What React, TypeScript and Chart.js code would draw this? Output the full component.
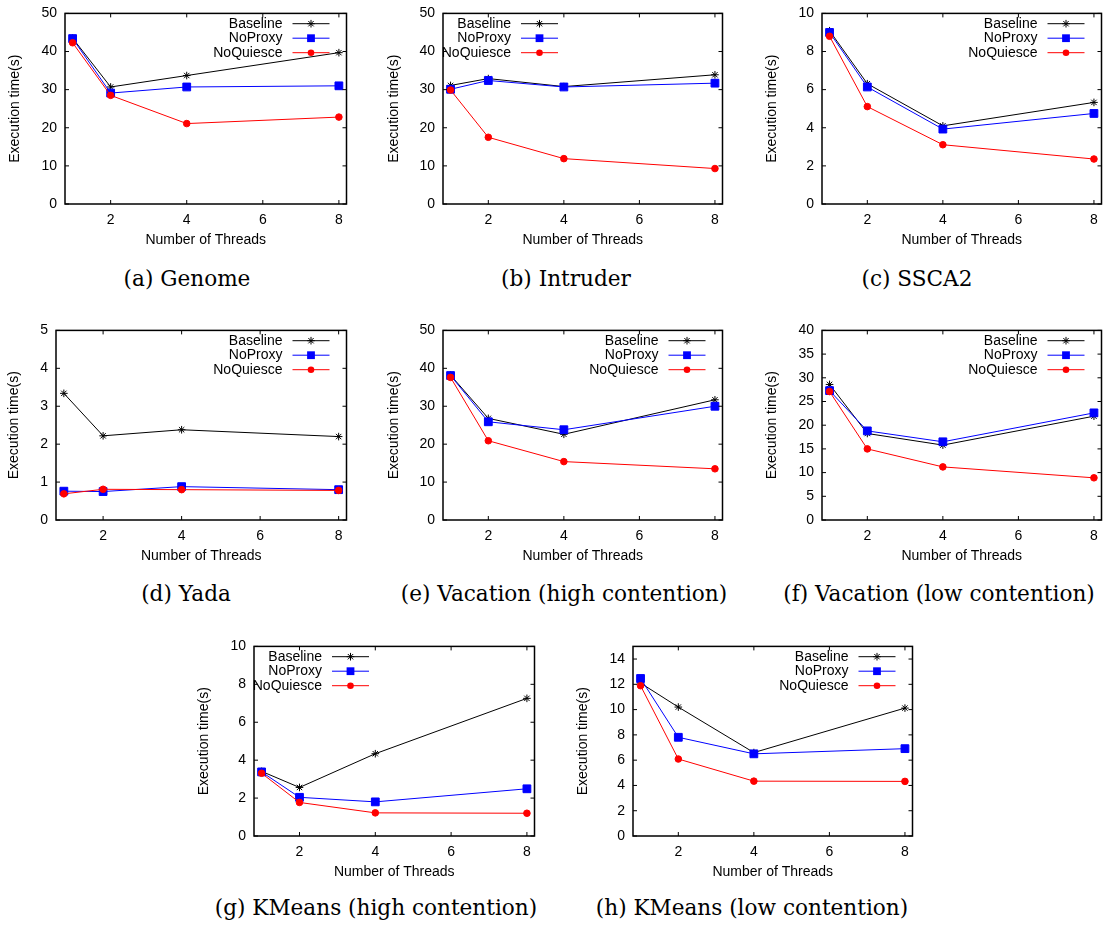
import React, { useEffect, useRef } from "react";
import { Chart, registerables } from "chart.js";

Chart.register(...registerables);

// ---------- data ----------
const threads = [1, 2, 4, 8];
const seriesNames = ["Baseline", "NoProxy", "NoQuiesce"];
const xTickValues = [2, 4, 6, 8];

const yTicks50 = [0, 10, 20, 30, 40, 50];
const yTicks10 = [0, 2, 4, 6, 8, 10];
const yTicks5 = [0, 1, 2, 3, 4, 5];
const yTicks40 = [0, 5, 10, 15, 20, 25, 30, 35, 40];
const yTicks14 = [0, 2, 4, 6, 8, 10, 12, 14];

const genomeBaseline = [43.5, 30.7, 33.7, 39.7];
const genomeNoProxy = [43.4, 29.1, 30.7, 31.0];
const genomeNoQuiesce = [42.3, 28.5, 21.1, 22.8];

const intruderBaseline = [31.1, 32.9, 30.8, 33.9];
const intruderNoProxy = [30.1, 32.4, 30.7, 31.7];
const intruderNoQuiesce = [29.9, 17.5, 11.9, 9.3];

const ssca2Baseline = [9.09, 6.31, 4.1, 5.33];
const ssca2NoProxy = [9.0, 6.14, 3.93, 4.75];
const ssca2NoQuiesce = [8.8, 5.11, 3.11, 2.36];

const yadaBaseline = [3.34, 2.22, 2.38, 2.2];
const yadaNoProxy = [0.76, 0.75, 0.88, 0.8];
const yadaNoQuiesce = [0.69, 0.81, 0.8, 0.78];

const vacHighBaseline = [38.2, 26.8, 22.6, 31.7];
const vacHighNoProxy = [38.1, 25.9, 23.8, 30.0];
const vacHighNoQuiesce = [37.6, 20.9, 15.4, 13.5];

const vacLowBaseline = [28.6, 18.25, 15.8, 21.9];
const vacLowNoProxy = [27.3, 18.8, 16.5, 22.6];
const vacLowNoQuiesce = [27.1, 15.0, 11.2, 8.9];

const kmHighBaseline = [3.41, 2.56, 4.34, 7.26];
const kmHighNoProxy = [3.38, 2.04, 1.8, 2.49];
const kmHighNoQuiesce = [3.31, 1.77, 1.22, 1.2];

const kmLowBaseline = [12.1, 10.2, 6.6, 10.12];
const kmLowNoProxy = [12.46, 7.81, 6.5, 6.91];
const kmLowNoQuiesce = [11.89, 6.09, 4.34, 4.32];

const captions = [
  "(a) Genome",
  "(b) Intruder",
  "(c) SSCA2",
  "(d) Yada",
  "(e) Vacation (high contention)",
  "(f) Vacation (low contention)",
  "(g) KMeans (high contention)",
  "(h) KMeans (low contention)",
];

// ---------- panel definitions ----------
const panels = [
  { yMax: 50, yTicks: yTicks50, series: [genomeBaseline, genomeNoProxy, genomeNoQuiesce], side: "right" },
  { yMax: 50, yTicks: yTicks50, series: [intruderBaseline, intruderNoProxy, intruderNoQuiesce], side: "left" },
  { yMax: 10, yTicks: yTicks10, series: [ssca2Baseline, ssca2NoProxy, ssca2NoQuiesce], side: "right" },
  { yMax: 5, yTicks: yTicks5, series: [yadaBaseline, yadaNoProxy, yadaNoQuiesce], side: "right" },
  { yMax: 50, yTicks: yTicks50, series: [vacHighBaseline, vacHighNoProxy, vacHighNoQuiesce], side: "right" },
  { yMax: 40, yTicks: yTicks40, series: [vacLowBaseline, vacLowNoProxy, vacLowNoQuiesce], side: "right" },
  { yMax: 10, yTicks: yTicks10, series: [kmHighBaseline, kmHighNoProxy, kmHighNoQuiesce], side: "left" },
  { yMax: 15, yTicks: yTicks14, series: [kmLowBaseline, kmLowNoProxy, kmLowNoQuiesce], side: "right" },
];

// page-layout (plot rectangle, caption centre, y-title offset)
const boxes = [
  { L: 65, R: 347, T: 9, B: 204, cx: 187, cy: 279, yOff: 50 },
  { L: 443, R: 723, T: 9, B: 204, cx: 566, cy: 279, yOff: 49 },
  { L: 822, R: 1102, T: 9, B: 204, cx: 917, cy: 279, yOff: 50 },
  { L: 56, R: 347, T: 326, B: 520, cx: 186, cy: 594, yOff: 42 },
  { L: 443, R: 723, T: 326, B: 520, cx: 564, cy: 594, yOff: 49 },
  { L: 822, R: 1102, T: 326, B: 520, cx: 939, cy: 594, yOff: 50 },
  { L: 254, R: 535, T: 642, B: 836, cx: 376, cy: 908, yOff: 50 },
  { L: 633, R: 913, T: 642, B: 836, cx: 752, cy: 908, yOff: 50 },
];

const colors = ["#000000", "#0000ff", "#ff0000"];
const pointStyles = ["star", "rect", "circle"];
const pointRadii = [3.8, 5.5, 3.3];
const FONT = "'Liberation Sans', Arial, sans-serif";

const Y_AXIS_W = 60;
const X_AXIS_H = 45;
const PAD_TOP = 12;
const PAD_BOTTOM = 3;
const PAD_RIGHT = 6;

function drawMarker(ctx: CanvasRenderingContext2D, style: string, x: number, y: number, r: number, color: string) {
  ctx.save();
  ctx.strokeStyle = color;
  ctx.fillStyle = color;
  ctx.lineWidth = 1;
  if (style === "star") {
    const d = r * Math.SQRT1_2;
    ctx.beginPath();
    ctx.moveTo(x - r, y);
    ctx.lineTo(x + r, y);
    ctx.moveTo(x, y - r);
    ctx.lineTo(x, y + r);
    ctx.moveTo(x - d, y - d);
    ctx.lineTo(x + d, y + d);
    ctx.moveTo(x - d, y + d);
    ctx.lineTo(x + d, y - d);
    ctx.stroke();
  } else if (style === "rect") {
    const s = r * Math.SQRT1_2;
    ctx.fillRect(x - s, y - s, 2 * s, 2 * s);
  } else {
    ctx.beginPath();
    ctx.arc(x, y, r, 0, Math.PI * 2);
    ctx.fill();
  }
  ctx.restore();
}

const framePlugin = {
  id: "gpFrame",
  afterDatasetsDraw(chart: any) {
    const { ctx, chartArea: a, scales } = chart;
    ctx.save();
    ctx.strokeStyle = "#000";
    ctx.lineWidth = 1;
    const tl = 4;
    ctx.beginPath();
    scales.x.ticks.forEach((t: any) => {
      const px = scales.x.getPixelForValue(t.value);
      ctx.moveTo(px, a.bottom);
      ctx.lineTo(px, a.bottom - tl);
      ctx.moveTo(px, a.top);
      ctx.lineTo(px, a.top + tl);
    });
    scales.y.ticks.forEach((t: any) => {
      const py = scales.y.getPixelForValue(t.value);
      ctx.moveTo(a.left, py);
      ctx.lineTo(a.left + tl, py);
      ctx.moveTo(a.right, py);
      ctx.lineTo(a.right - tl, py);
    });
    ctx.stroke();
    ctx.lineWidth = 1.5;
    ctx.strokeRect(a.left, a.top, a.right - a.left, a.bottom - a.top);
    ctx.restore();
  },
};

const legendPlugin = {
  id: "gpLegend",
  afterDraw(chart: any, _args: any, opts: any) {
    const { ctx, chartArea: a } = chart;
    const lineEnd = opts.side === "left" ? a.left + 115 : a.right - 17;
    const lineStart = lineEnd - 37;
    const mid = (lineStart + lineEnd) / 2;
    chart.data.datasets.forEach((ds: any, i: number) => {
      const y = a.top + 10.3 + i * 14.5;
      ctx.save();
      ctx.fillStyle = "#000";
      ctx.font = `14px ${FONT}`;
      ctx.textAlign = "right";
      ctx.textBaseline = "middle";
      ctx.fillText(ds.label, lineStart - 10, y);
      ctx.strokeStyle = ds.borderColor;
      ctx.lineWidth = 1;
      ctx.beginPath();
      ctx.moveTo(lineStart, y);
      ctx.lineTo(lineEnd, y);
      ctx.stroke();
      ctx.restore();
      drawMarker(ctx, ds.pointStyle, mid, y, ds.pointRadius, ds.borderColor);
    });
  },
};

function Panel({ idx }: { idx: number }) {
  const ref = useRef<HTMLCanvasElement | null>(null);
  const p = panels[idx];
  const b = boxes[idx];
  const width = b.R - b.L + Y_AXIS_W + PAD_RIGHT;
  const height = b.B - b.T + PAD_TOP + X_AXIS_H + PAD_BOTTOM;

  useEffect(() => {
    if (!ref.current) return;
    const datasets = seriesNames.map((name, i) => ({
      label: name,
      data: threads.map((t, k) => ({ x: t, y: p.series[i][k] })),
      borderColor: colors[i],
      backgroundColor: colors[i],
      pointBackgroundColor: colors[i],
      pointBorderColor: colors[i],
      borderWidth: 1,
      pointBorderWidth: 1,
      pointStyle: pointStyles[i],
      pointRadius: pointRadii[i],
      tension: 0,
      order: 3 - i,
    }));
    const chart = new Chart(ref.current, {
      type: "line",
      data: { datasets },
      plugins: [framePlugin, legendPlugin],
      options: {
        responsive: false,
        animation: false,
        devicePixelRatio: 1,
        layout: { padding: { top: PAD_TOP, right: PAD_RIGHT, bottom: PAD_BOTTOM, left: 0 } },
        plugins: {
          legend: { display: false },
          tooltip: { enabled: false },
          gpLegend: { side: p.side },
        } as any,
        scales: {
          x: {
            type: "linear",
            min: 0.8,
            max: 8.2,
            grid: { display: false, drawTicks: false },
            border: { display: false },
            afterBuildTicks: (s: any) => {
              s.ticks = xTickValues.map((v) => ({ value: v }));
            },
            afterFit: (s: any) => {
              s.height = X_AXIS_H;
            },
            ticks: {
              color: "#000",
              font: { family: FONT, size: 14 },
              padding: 7.5,
              maxRotation: 0,
              autoSkip: false,
            },
            title: {
              display: true,
              text: "Number of Threads",
              color: "#000",
              font: { family: FONT, size: 14 },
              padding: { top: 0, bottom: 0.6 },
            },
          },
          y: {
            type: "linear",
            min: 0,
            max: p.yMax,
            grid: { display: false, drawTicks: false },
            border: { display: false },
            afterBuildTicks: (s: any) => {
              s.ticks = p.yTicks.map((v) => ({ value: v }));
            },
            afterFit: (s: any) => {
              s.width = Y_AXIS_W;
            },
            ticks: {
              color: "#000",
              font: { family: FONT, size: 14 },
              padding: 8,
              autoSkip: false,
            },
            title: {
              display: true,
              text: "Execution time(s)",
              color: "#000",
              font: { family: FONT, size: 14 },
              padding: { top: Y_AXIS_W - b.yOff - 8.4, bottom: 0 },
            },
          },
        },
      } as any,
    });
    return () => chart.destroy();
  }, [idx]);

  return (
    <>
      <canvas
        ref={ref}
        width={width}
        height={height}
        style={{
          position: "absolute",
          left: b.L - Y_AXIS_W,
          top: b.T - PAD_TOP,
          width,
          height,
        }}
      />
      <div
        style={{
          position: "absolute",
          left: b.cx - 250,
          width: 500,
          top: b.cy - 12,
          height: 24,
          lineHeight: "24px",
          textAlign: "center",
          fontFamily: "'DejaVu Serif', serif",
          fontSize: 21.6,
          color: "#000",
          whiteSpace: "nowrap",
        }}
      >
        {captions[idx]}
      </div>
    </>
  );
}

export default function App() {
  return (
    <div
      style={{
        position: "absolute",
        left: 0,
        top: 0,
        width: 1105,
        height: 926,
        overflow: "hidden",
        background: "#fff",
      }}
    >
      {panels.map((_, i) => (
        <Panel key={i} idx={i} />
      ))}
    </div>
  );
}
